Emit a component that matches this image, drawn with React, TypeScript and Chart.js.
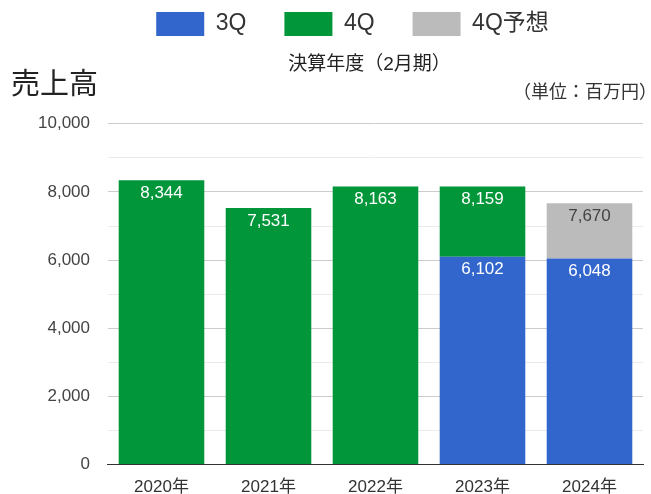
import React, { useEffect, useRef } from "react";
import { Chart, registerables } from "chart.js";

Chart.register(...registerables);

const categories = ["2020年", "2021年", "2022年", "2023年", "2024年"];
const q3Values: (number | null)[] = [null, null, null, 6102, 6048];
const q4Cumulative: (number | null)[] = [8344, 7531, 8163, 8159, null];
const forecastCumulative: (number | null)[] = [null, null, null, null, 7670];
const seriesNames = ["3Q", "4Q", "4Q予想"];
const yTickValues = [0, 2000, 4000, 6000, 8000, 10000];

const FONT = "Arial, 'Liberation Sans', 'Noto Sans CJK JP', sans-serif";

const diff = (tot: (number | null)[]) =>
  tot.map((v, i) => (v == null ? null : v - (q3Values[i] ?? 0)));

const labelSets = [q3Values, q4Cumulative, forecastCumulative];
const labelColors = ["#ffffff", "#ffffff", "#444444"];

const fmt = (v: number) => v.toLocaleString("en-US");

const textPlugin = {
  id: "extraTexts",
  afterLayout(chart: any) {
    const lg = chart.legend;
    if (lg) {
      lg.left += 21;
      lg.right += 21;
    }
    const tb = chart.titleBlock;
    if (tb) {
      tb.left += 38;
      tb.right += 38;
    }
  },
  afterDatasetsDraw(chart: any) {
    const ctx = chart.ctx;
    ctx.save();
    chart.data.datasets.forEach((ds: any, di: number) => {
      const meta = chart.getDatasetMeta(di);
      meta.data.forEach((el: any, i: number) => {
        const v = labelSets[di][i];
        if (v == null) return;
        ctx.font = `17px ${FONT}`;
        ctx.fillStyle = labelColors[di];
        ctx.textAlign = "center";
        ctx.textBaseline = "middle";
        ctx.fillText(fmt(v), el.x, el.y + 13);
      });
    });
    ctx.restore();
  },
  afterDraw(chart: any) {
    const ctx = chart.ctx;
    ctx.save();
    ctx.fillStyle = "#222";
    ctx.font = `29px ${FONT}`;
    ctx.textAlign = "left";
    ctx.textBaseline = "middle";
    ctx.fillText("売上高", 11, 86);
    ctx.fillStyle = "#333";
    ctx.font = `18px ${FONT}`;
    ctx.textAlign = "right";
    ctx.fillText("（単位：百万円）", 657, 93);
    ctx.restore();
  },
};

export default function App() {
  const ref = useRef<HTMLCanvasElement>(null);
  useEffect(() => {
    document.body.style.margin = "0";
    const chart = new Chart(ref.current!, {
      type: "bar",
      data: {
        labels: categories,
        datasets: [
          { label: seriesNames[0], data: q3Values, backgroundColor: "#3366cc", stack: "s" },
          { label: seriesNames[1], data: diff(q4Cumulative), backgroundColor: "#009639", stack: "s" },
          { label: seriesNames[2], data: diff(forecastCumulative), backgroundColor: "#bbbbbb", stack: "s" },
        ],
      },
      options: {
        animation: false,
        responsive: false,
        layout: { padding: { top: -26, left: 20, right: 8, bottom: -17 } },
        datasets: { bar: { categoryPercentage: 1, barPercentage: 0.8 } },
        plugins: {
          legend: {
            position: "top",
            align: "center",
            weight: 3000,
            labels: {
              boxWidth: 48,
              boxHeight: 24,
              padding: 38,
              color: "#333",
              font: { size: 23, family: FONT },
            },
          },
          title: {
            display: true,
            text: "決算年度（2月期）",
            color: "#222",
            font: { size: 19, weight: "normal", family: FONT },
            padding: { top: 7, bottom: 48 },
          },
          tooltip: { enabled: false },
        },
        scales: {
          x: {
            stacked: true,
            grid: { display: false, drawTicks: false },
            border: { color: "#333", width: 1 },
            ticks: { color: "#333", font: { size: 17, family: FONT }, padding: 13 },
          },
          y: {
            stacked: true,
            min: 0,
            max: 10000,
            border: { display: false },
            grid: {
              drawTicks: false,
              color: (c: any) =>
                c.tick && c.tick.value === 0 ? "#333" : c.tick && c.tick.value % 2000 === 0 ? "#cccccc" : "#ebebeb",
            },
            ticks: {
              stepSize: 1000,
              padding: 18,
              color: "#444",
              font: { size: 17, family: FONT },
              callback: (v: any) => (yTickValues.includes(Number(v)) ? fmt(Number(v)) : ""),
            },
          },
        },
      },
      plugins: [textPlugin],
    } as any);
    return () => chart.destroy();
  }, []);
  return (
    <div style={{ width: 651, height: 494 }}>
      <canvas ref={ref} width={651} height={494} />
    </div>
  );
}
